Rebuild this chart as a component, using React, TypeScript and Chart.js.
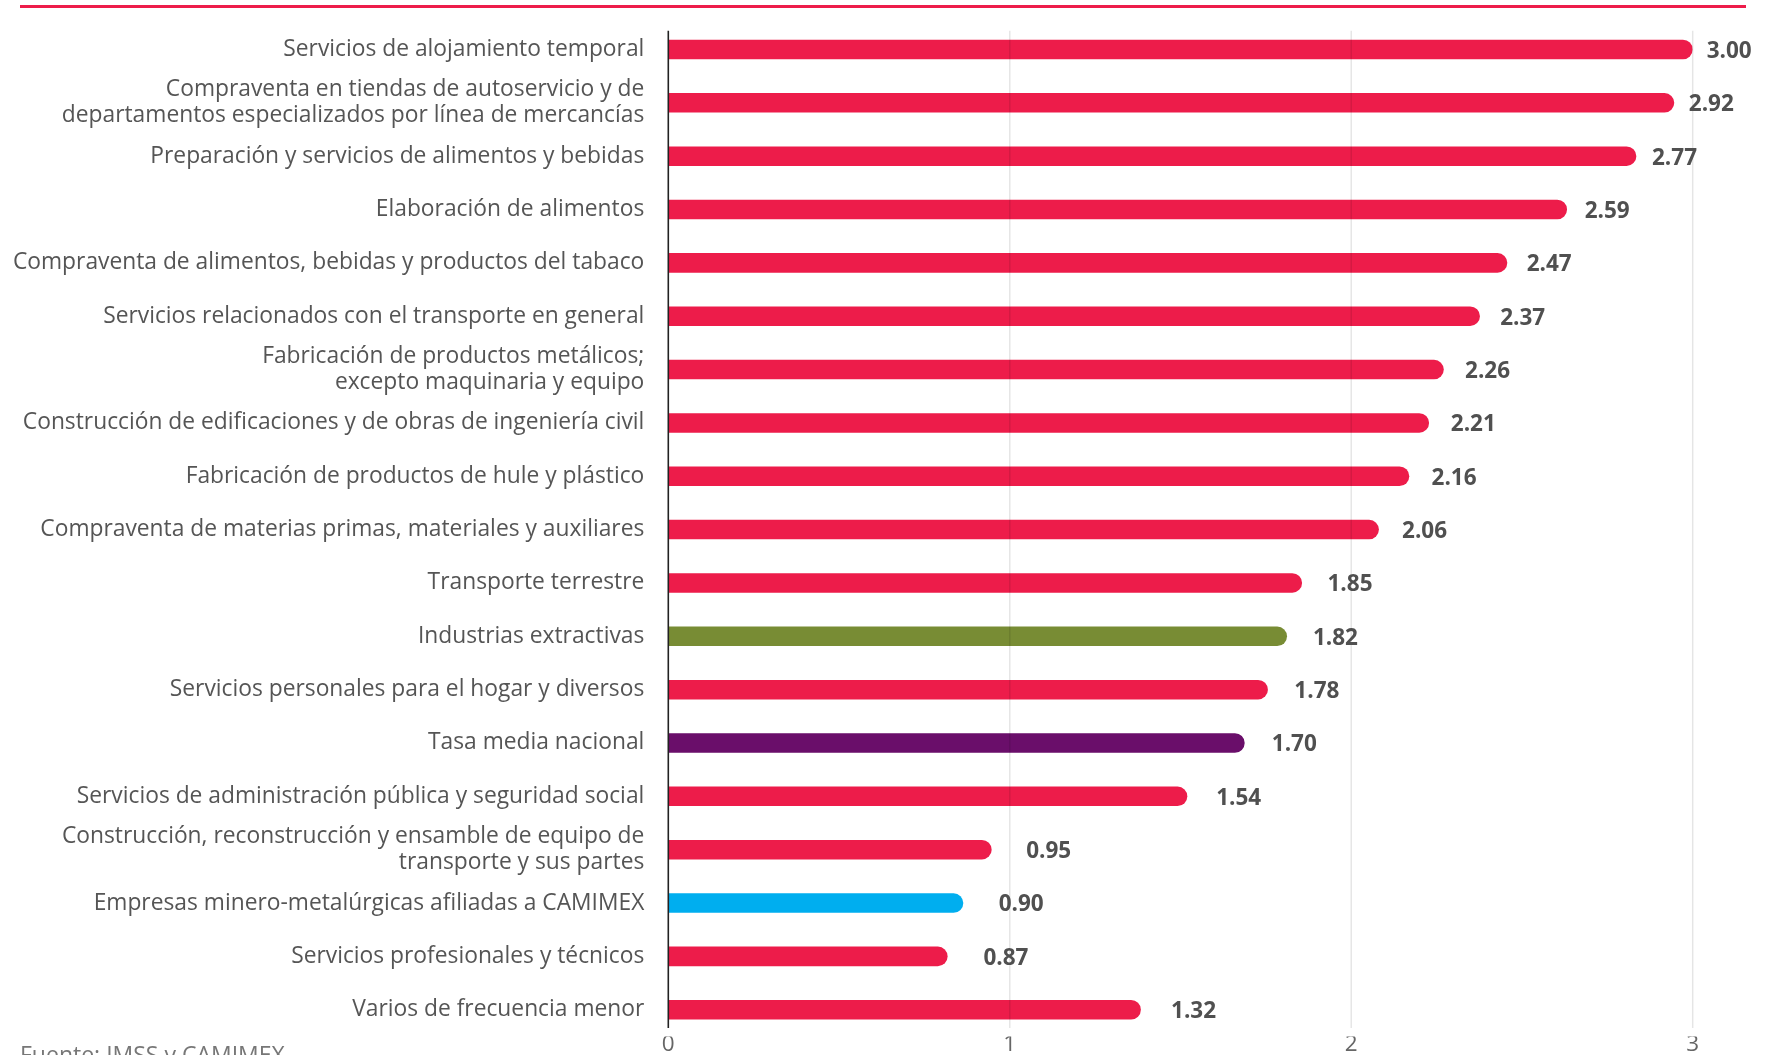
import React, { useEffect, useRef } from "react";
import { Chart, registerables } from "chart.js";

Chart.register(...registerables);

const categories: (string | string[])[] = [
  "Servicios de alojamiento temporal",
  ["Compraventa en tiendas de autoservicio y de", "departamentos especializados por línea de mercancías"],
  "Preparación y servicios de alimentos y bebidas",
  "Elaboración de alimentos",
  "Compraventa de alimentos, bebidas y productos del tabaco",
  "Servicios relacionados con el transporte en general",
  ["Fabricación de productos metálicos;", "excepto maquinaria y equipo"],
  "Construcción de edificaciones y de obras de ingeniería civil",
  "Fabricación de productos de hule y plástico",
  "Compraventa de materias primas, materiales y auxiliares",
  "Transporte terrestre",
  "Industrias extractivas",
  "Servicios personales para el hogar y diversos",
  "Tasa media nacional",
  "Servicios de administración pública y seguridad social",
  ["Construcción, reconstrucción y ensamble de equipo de", "transporte y sus partes"],
  "Empresas minero-metalúrgicas afiliadas a CAMIMEX",
  "Servicios profesionales y técnicos",
  "Varios de frecuencia menor",
];

// bar lengths as drawn in the picture
const barValues = [
  3.0, 2.946, 2.835, 2.632, 2.457, 2.377, 2.271, 2.228, 2.17, 2.081,
  1.856, 1.812, 1.756, 1.688, 1.52, 0.947, 0.864, 0.818, 1.384,
];

// printed value labels
const valueLabels = [
  "3.00", "2.92", "2.77", "2.59", "2.47", "2.37", "2.26", "2.21", "2.16", "2.06",
  "1.85", "1.82", "1.78", "1.70", "1.54", "0.95", "0.90", "0.87", "1.32",
];

const xTicks = [0, 1, 2, 3];

const sourceText = "Fuente: IMSS y CAMIMEX";

const RED = "#ED1C4A";
const specialColors: Record<string, string> = {
  "Industrias extractivas": "#788C34",
  "Tasa media nacional": "#6A0E6A",
  "Empresas minero-metalúrgicas afiliadas a CAMIMEX": "#00AEEF",
};

const W = 1769;
const H = 1055;
const AREA_LEFT = 668.3;
const AREA_RIGHT = 1692.7;
const AREA_TOP = 22.8;
const AREA_BOTTOM = 1036.4;

const overlayPlugin = {
  id: "overlay",
  afterDatasetsDraw(chart: any) {
    const { ctx, chartArea, scales } = chart;
    const x = scales.x;
    const top = chartArea.top + 8;
    const bottom = chartArea.bottom - 8.5;
    ctx.save();
    // grid lines (drawn over bars)
    ctx.lineWidth = 1.5;
    ctx.strokeStyle = "rgba(0,0,0,0.10)";
    x.ticks.forEach((t: any) => {
      if (t.value === 0) return;
      const px = x.getPixelForValue(t.value);
      ctx.beginPath();
      ctx.moveTo(px, top);
      ctx.lineTo(px, bottom);
      ctx.stroke();
    });
    // zero axis line
    const p0 = x.getPixelForValue(0);
    ctx.strokeStyle = "#222";
    ctx.lineWidth = 1.6;
    ctx.beginPath();
    ctx.moveTo(p0, top);
    ctx.lineTo(p0, bottom);
    ctx.stroke();

    // value labels
    const meta = chart.getDatasetMeta(0);
    ctx.font = "bold 22.5px 'Open Sans'";
    ctx.fillStyle = "#505050";
    ctx.textAlign = "left";
    ctx.textBaseline = "middle";
    meta.data.forEach((bar: any, i: number) => {
      const v = barValues[i];
      const gap = 14 + 10 * (3 - v);
      ctx.fillText(valueLabels[i], bar.x + gap, bar.y + 2);
    });
    ctx.restore();
  },
};

const zeroPadding = (scale: any) => {
  scale.paddingTop = 0;
  scale.paddingBottom = 0;
  scale.paddingLeft = 0;
  scale.paddingRight = 0;
};

export default function App() {
  const canvasRef = useRef<HTMLCanvasElement | null>(null);

  useEffect(() => {
    if (!canvasRef.current) return;
    const colors = categories.map((c) => {
      const key = Array.isArray(c) ? c.join(" ") : c;
      return specialColors[key] || RED;
    });
    const chart = new Chart(canvasRef.current, {
      type: "bar",
      data: {
        labels: categories as any,
        datasets: [
          {
            data: barValues,
            backgroundColor: colors,
            borderWidth: 0,
            borderRadius: 20,
            borderSkipped: "start",
            barPercentage: 0.732,
            categoryPercentage: 0.5,
          },
        ],
      },
      options: {
        indexAxis: "y",
        responsive: false,
        animation: false,
        devicePixelRatio: 1,
        layout: {
          padding: { top: AREA_TOP, right: W - AREA_RIGHT, bottom: 0, left: 0 },
        },
        plugins: {
          legend: { display: false },
          tooltip: { enabled: false },
          title: { display: false },
        },
        scales: {
          x: {
            type: "linear",
            min: 0,
            max: 3,
            afterBuildTicks: (scale: any) => {
              scale.ticks = xTicks.map((v) => ({ value: v }));
            },
            afterFit: (scale: any) => {
              scale.height = H - AREA_BOTTOM;
              zeroPadding(scale);
            },
            grid: { display: false, drawTicks: false },
            border: { display: false },
            ticks: {
              padding: 0,
              color: "#666",
              font: { family: "'Open Sans'", size: 22.5, lineHeight: 0.7 },
            },
          },
          y: {
            type: "category",
            afterFit: (scale: any) => {
              scale.width = AREA_LEFT;
              zeroPadding(scale);
            },
            grid: { display: false, drawTicks: false },
            border: { display: false },
            ticks: {
              padding: 24,
              color: "#555",
              autoSkip: false,
              font: { family: "'Open Sans'", size: 22.8, lineHeight: 1.14 },
            },
          },
        },
      },
      plugins: [overlayPlugin],
    });
    return () => chart.destroy();
  }, []);

  return (
    <div
      style={{
        position: "fixed",
        left: 0,
        top: 0,
        width: W,
        height: H,
        overflow: "hidden",
        background: "#fff",
      }}
    >
      <div
        style={{
          position: "absolute",
          left: 20,
          top: 5,
          width: 1726,
          height: 3,
          background: RED,
        }}
      />
      <canvas
        ref={canvasRef}
        width={W}
        height={H}
        style={{ position: "absolute", left: 0, top: 0, width: W, height: H }}
      />
      <div
        style={{
          position: "absolute",
          left: 20,
          top: 1043,
          fontFamily: "'Open Sans'",
          fontSize: 23,
          lineHeight: "23px",
          color: "#777",
          whiteSpace: "nowrap",
        }}
      >
        {sourceText}
      </div>
    </div>
  );
}
